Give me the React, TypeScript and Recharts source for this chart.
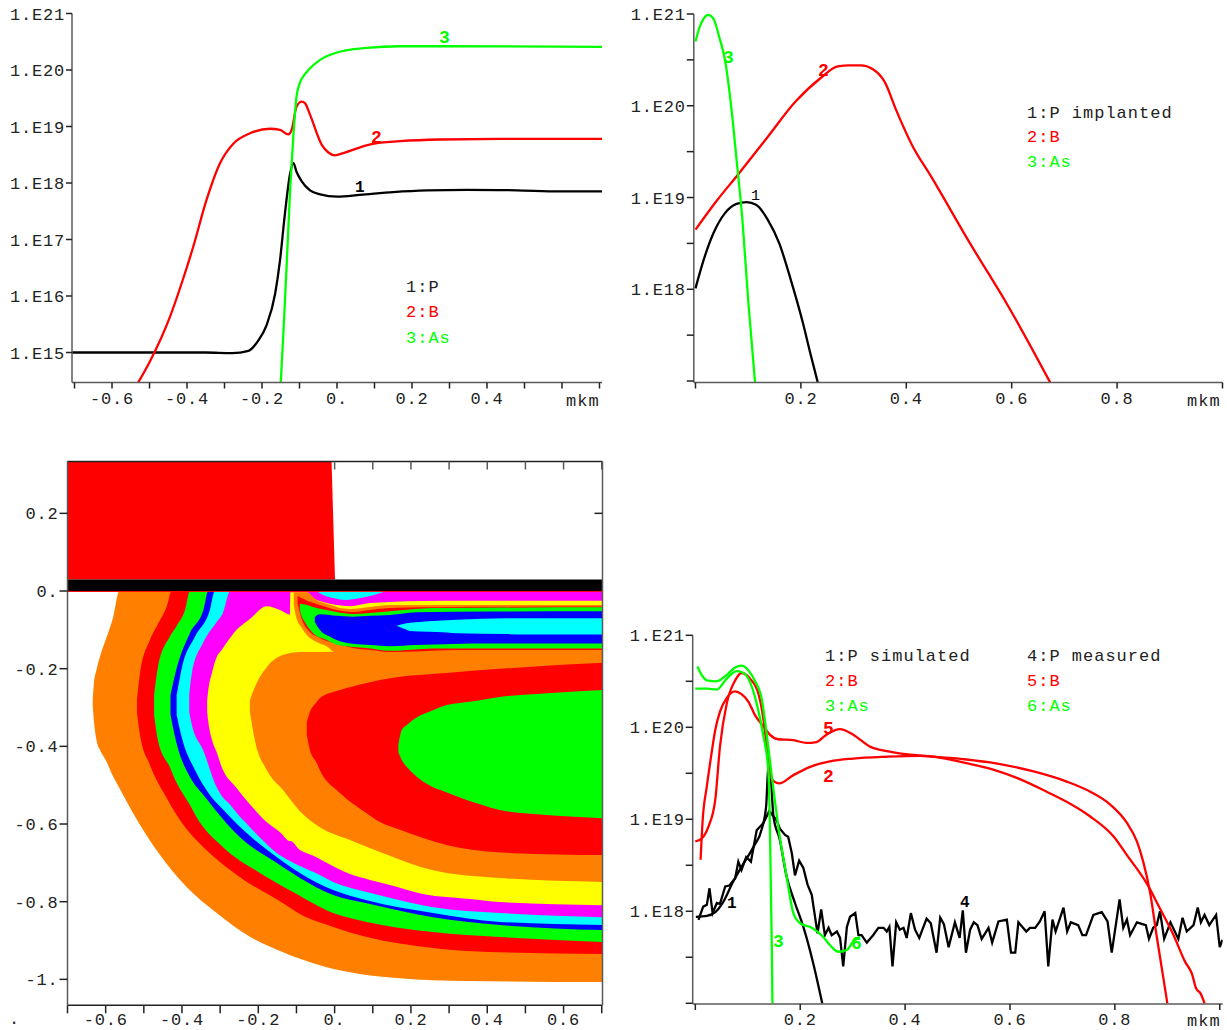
import { Area, ComposedChart, Line, LineChart, ReferenceLine, XAxis, YAxis } from 'recharts';

const BLACK = '#000000';
const RED = '#ff0000';
const GREEN = '#00ff00';
const ORANGE = '#ff8000';
const YELLOW = '#ffff00';
const MAGENTA = '#ff00ff';
const CYAN = '#00ffff';
const BLUE = '#0000ff';
const AXIS = '#5a5a5a';
const FONT = '"Liberation Mono", monospace';

type Pair = number[];

// top left: log10 concentration against depth
const leftP: Pair[] = [[-0.707, 15], [-0.35, 15], [-0.28, 14.99], [-0.236, 15.03], [-0.21, 15.21], [-0.188, 15.48], [-0.165, 16.04], [-0.152, 16.63], [-0.139, 17.45], [-0.125, 18.17], [-0.116, 18.35], [-0.108, 18.2], [-0.094, 18.03], [-0.072, 17.87], [-0.045, 17.8], [0, 17.76], [0.061, 17.79], [0.15, 17.84], [0.24, 17.87], [0.346, 17.88], [0.479, 17.87], [0.595, 17.85], [0.707, 17.85]];
const leftB: Pair[] = [[-0.53, 14.47], [-0.499, 14.84], [-0.445, 15.64], [-0.414, 16.23], [-0.383, 16.88], [-0.348, 17.7], [-0.312, 18.35], [-0.276, 18.7], [-0.232, 18.88], [-0.179, 18.96], [-0.152, 18.94], [-0.13, 18.86], [-0.121, 18.94], [-0.108, 19.35], [-0.094, 19.44], [-0.085, 19.41], [-0.072, 19.21], [-0.041, 18.68], [-0.023, 18.54], [-0.005, 18.49], [0.017, 18.53], [0.092, 18.69], [0.168, 18.74], [0.275, 18.77], [0.435, 18.78], [0.707, 18.78]];
const leftAs: Pair[] = [[-0.15, 14.47], [-0.143, 15.34], [-0.134, 16.58], [-0.125, 17.88], [-0.116, 18.88], [-0.108, 19.53], [-0.099, 19.77], [-0.085, 19.93], [-0.072, 20.03], [-0.045, 20.18], [0, 20.31], [0.079, 20.39], [0.168, 20.42], [0.292, 20.42], [0.707, 20.41]];

// top right: implanted profiles
const implP: Pair[] = [[0, 18.01], [0.0155, 18.32], [0.034, 18.61], [0.056, 18.83], [0.078, 18.93], [0.097, 18.95], [0.115, 18.92], [0.137, 18.76], [0.159, 18.5], [0.181, 18.1], [0.204, 17.63], [0.218, 17.3], [0.232, 16.985]];
const implB: Pair[] = [[0, 18.65], [0.041, 18.97], [0.082, 19.26], [0.137, 19.66], [0.189, 20.04], [0.237, 20.3], [0.27, 20.43], [0.292, 20.44], [0.314, 20.44], [0.336, 20.4], [0.359, 20.26], [0.381, 19.95], [0.411, 19.57], [0.447, 19.23], [0.521, 18.5], [0.594, 17.81], [0.673, 16.985]];
const implAs: Pair[] = [[0, 20.7], [0.008, 20.86], [0.0155, 20.95], [0.024, 20.99], [0.034, 20.95], [0.045, 20.75], [0.056, 20.5], [0.067, 20.03], [0.078, 19.41], [0.089, 18.76], [0.1, 17.88], [0.113, 16.985]];

// bottom right: simulated against measured
const simP: Pair[] = [[0.001, 17.94], [0.022, 17.95], [0.038, 17.99], [0.053, 18.1], [0.072, 18.32], [0.092, 18.52], [0.111, 18.7], [0.127, 18.9], [0.135, 19.14], [0.139, 19.54], [0.142, 19.57], [0.149, 19.03], [0.161, 18.78], [0.174, 18.38], [0.19, 18.09], [0.206, 17.83], [0.225, 17.43], [0.242, 17]];
const simB: Pair[] = [[0, 18.76], [0.012, 18.79], [0.025, 18.92], [0.038, 19.21], [0.047, 19.79], [0.06, 20.26], [0.076, 20.51], [0.088, 20.59], [0.104, 20.53], [0.12, 20.37], [0.13, 20.08], [0.136, 19.79], [0.142, 19.5], [0.15, 19.41], [0.16, 19.39], [0.187, 19.48], [0.219, 19.57], [0.257, 19.63], [0.301, 19.66], [0.365, 19.68], [0.428, 19.69], [0.454, 19.68], [0.517, 19.65], [0.581, 19.6], [0.645, 19.52], [0.708, 19.41], [0.753, 19.3], [0.791, 19.16], [0.823, 18.96], [0.842, 18.76], [0.854, 18.54], [0.867, 18.21], [0.88, 17.72], [0.892, 17.29], [0.9, 17]];
const simAs: Pair[] = [[0, 20.42], [0.022, 20.42], [0.041, 20.41], [0.06, 20.53], [0.079, 20.61], [0.092, 20.59], [0.101, 20.53], [0.117, 20.26], [0.13, 19.9], [0.139, 19.54], [0.142, 18.99], [0.144, 18.27], [0.146, 17.54], [0.147, 17]];
const measP: Pair[] = [[0.006, 17.906], [0.015, 18.05], [0.022, 18.07], [0.027, 18.25], [0.033, 17.98], [0.041, 18.09], [0.047, 18.08], [0.057, 18.27], [0.065, 18.28], [0.076, 18.36], [0.082, 18.54], [0.088, 18.45], [0.097, 18.59], [0.106, 18.54], [0.117, 18.88], [0.13, 18.96], [0.141, 19.09], [0.155, 18.99], [0.161, 18.9], [0.171, 18.83], [0.177, 18.81], [0.184, 18.63], [0.19, 18.39], [0.198, 18.55], [0.206, 18.47], [0.214, 18.29], [0.222, 18.18], [0.233, 17.76], [0.24, 18.02], [0.247, 17.74], [0.254, 17.82], [0.26, 17.74], [0.27, 17.78], [0.276, 17.71], [0.282, 17.4], [0.289, 17.83], [0.295, 17.94], [0.305, 17.98], [0.311, 17.74], [0.317, 17.74], [0.327, 17.66], [0.339, 17.74], [0.349, 17.82], [0.359, 17.82], [0.365, 17.78], [0.37, 17.83], [0.376, 17.4], [0.383, 17.88], [0.39, 17.8], [0.397, 17.82], [0.403, 17.71], [0.411, 17.98], [0.419, 17.8], [0.427, 17.71], [0.441, 17.92], [0.449, 17.87], [0.46, 17.55], [0.467, 17.93], [0.474, 17.86], [0.483, 17.61], [0.495, 17.88], [0.504, 17.71], [0.51, 18.01], [0.516, 17.55], [0.524, 17.8], [0.531, 17.88], [0.538, 17.85], [0.546, 17.7], [0.559, 17.82], [0.566, 17.66], [0.578, 17.89], [0.594, 17.91], [0.602, 17.55], [0.61, 17.55], [0.616, 17.88], [0.631, 17.78], [0.638, 17.82], [0.648, 17.82], [0.657, 17.89], [0.666, 18], [0.673, 17.4], [0.681, 17.91], [0.687, 17.78], [0.702, 18.04], [0.709, 17.78], [0.716, 17.88], [0.73, 17.85], [0.738, 17.74], [0.745, 17.74], [0.759, 17.96], [0.775, 17.99], [0.786, 17.89], [0.794, 17.55], [0.809, 18.13], [0.816, 17.82], [0.823, 17.91], [0.829, 17.74], [0.842, 17.88], [0.859, 17.85], [0.865, 17.7], [0.873, 17.82], [0.88, 17.85], [0.886, 18], [0.894, 17.7], [0.906, 17.88], [0.921, 17.7], [0.929, 17.93], [0.937, 17.78], [0.95, 17.85], [0.958, 18.04], [0.964, 17.88], [0.971, 17.96], [0.98, 17.85], [0.993, 17.96], [1, 17.61], [1.005, 17.69]];
const measB: Pair[] = [[0.01, 18.56], [0.014, 18.99], [0.022, 19.36], [0.031, 19.72], [0.038, 19.97], [0.047, 20.17], [0.06, 20.32], [0.076, 20.39], [0.088, 20.36], [0.101, 20.28], [0.114, 20.13], [0.13, 20.01], [0.142, 19.92], [0.158, 19.87], [0.187, 19.86], [0.212, 19.83], [0.231, 19.84], [0.25, 19.92], [0.276, 19.98], [0.301, 19.92], [0.333, 19.79], [0.365, 19.74], [0.397, 19.71], [0.454, 19.68], [0.517, 19.61], [0.568, 19.54], [0.613, 19.45], [0.67, 19.3], [0.708, 19.19], [0.753, 19.03], [0.798, 18.81], [0.823, 18.61], [0.861, 18.3], [0.886, 18.03], [0.912, 17.74], [0.934, 17.45], [0.947, 17.32], [0.955, 17.16], [0.963, 17.11], [0.971, 17]];
const measAs: Pair[] = [[0.004, 20.66], [0.012, 20.57], [0.022, 20.51], [0.041, 20.5], [0.06, 20.57], [0.076, 20.65], [0.088, 20.67], [0.101, 20.62], [0.114, 20.5], [0.127, 20.3], [0.136, 19.93], [0.146, 19.46], [0.161, 18.81], [0.174, 18.38], [0.187, 17.98], [0.2, 17.87], [0.222, 17.82], [0.244, 17.72], [0.257, 17.63], [0.273, 17.56], [0.289, 17.58], [0.301, 17.67], [0.314, 17.72]];

// cross section: each band is [x, upper y, lower y], painted outer to inner
const maskBand: Pair[] = [[-0.7, 0.3335, 0.0296], [-0.008, 0.3335, 0.0296], [0.001, 0.0296, 0.0296]];
const oxideBand: Pair[] = [[-0.7, 0.0296, -0.001], [0.702, 0.0296, -0.001]];
const orangeOuter: Pair[] = [[-0.634, -0.281, -0.294], [-0.631, -0.24, -0.332], [-0.624, -0.203, -0.384], [-0.615, -0.169, -0.409], [-0.599, -0.123, -0.437], [-0.58, -0.066, -0.478], [-0.564, 0, -0.507], [-0.528, 0, -0.572], [-0.467, 0, -0.667], [-0.388, 0, -0.762], [-0.309, 0, -0.829], [-0.222, 0, -0.89], [-0.135, 0, -0.93], [-0.091, 0, -0.947], [-0.021, 0, -0.969], [0.066, 0, -0.986], [0.171, 0, -0.997], [0.346, 0, -1.004], [0.702, 0, -1.007]];
const redOuter: Pair[] = [[-0.518, -0.281, -0.312], [-0.51, -0.211, -0.371], [-0.484, -0.126, -0.448], [-0.463, -0.085, -0.494], [-0.44, -0.04, -0.533], [-0.427, 0, -0.556], [-0.405, 0, -0.59], [-0.336, 0, -0.667], [-0.248, 0, -0.737], [-0.135, 0, -0.804], [-0.091, 0, -0.832], [-0.004, 0, -0.865], [0.084, 0, -0.891], [0.258, 0, -0.919], [0.346, 0, -0.927], [0.702, 0, -0.935]];
const greenOuter: Pair[] = [[-0.473, -0.268, -0.319], [-0.463, -0.196, -0.384], [-0.432, -0.118, -0.453], [-0.414, -0.09, -0.494], [-0.392, -0.049, -0.531], [-0.379, 0, -0.551], [-0.362, 0, -0.582], [-0.293, 0, -0.659], [-0.196, 0, -0.726], [-0.109, 0, -0.775], [-0.004, 0, -0.829], [0.084, 0, -0.852], [0.258, 0, -0.878], [0.433, 0, -0.891], [0.702, 0, -0.904]];
const blueOuter: Pair[] = [[-0.43, -0.268, -0.319], [-0.415, -0.203, -0.389], [-0.379, -0.108, -0.479], [-0.344, -0.049, -0.525], [-0.331, 0, -0.541], [-0.319, 0, -0.556], [-0.248, 0, -0.634], [-0.152, 0, -0.7], [-0.091, 0, -0.739], [-0.004, 0, -0.783], [0.084, 0, -0.804], [0.258, 0, -0.84], [0.433, 0, -0.86], [0.702, 0, -0.873]];
const cyanOuter: Pair[] = [[-0.414, -0.268, -0.319], [-0.4, -0.196, -0.379], [-0.366, -0.118, -0.461], [-0.327, -0.049, -0.525], [-0.314, 0, -0.541], [-0.309, 0, -0.546], [-0.24, 0, -0.615], [-0.152, 0, -0.685], [-0.091, 0, -0.726], [-0.004, 0, -0.77], [0.084, 0, -0.796], [0.258, 0, -0.829], [0.433, 0, -0.852], [0.702, 0, -0.86]];
const magentaOuter: Pair[] = [[-0.381, -0.268, -0.312], [-0.374, -0.211, -0.345], [-0.345, -0.134, -0.409], [-0.309, -0.08, -0.505], [-0.293, -0.057, -0.531], [-0.273, 0, -0.551], [-0.267, 0, -0.559], [-0.222, 0, -0.608], [-0.136, 0, -0.685], [-0.091, 0, -0.708], [-0.039, 0, -0.731], [-0.004, 0, -0.749], [0.084, 0, -0.775], [0.171, 0, -0.796], [0.258, 0, -0.814], [0.433, 0, -0.829], [0.702, 0, -0.84]];
const yellowMain: Pair[] = [[-0.334, -0.281, -0.312], [-0.331, -0.255, -0.337], [-0.321, -0.209, -0.384], [-0.309, -0.17, -0.415], [-0.296, -0.152, -0.453], [-0.257, -0.1, -0.507], [-0.222, -0.072, -0.549], [-0.178, -0.039, -0.595], [-0.143, -0.049, -0.621], [-0.117, -0.061, -0.644], [-0.116, -0.003, -0.644], [-0.091, -0.003, -0.667], [-0.073, -0.003, -0.675], [-0.056, -0.018, -0.682], [-0.03, -0.028, -0.695], [0.005, -0.036, -0.713], [0.04, -0.039, -0.729], [0.093, -0.031, -0.744], [0.145, -0.028, -0.757], [0.231, -0.026, -0.78], [0.355, -0.025, -0.793], [0.433, -0.025, -0.801], [0.702, -0.025, -0.809]];
const cyanSurface: Pair[] = [[-0.043, 0, -0.003], [-0.03, 0, -0.01], [-0.004, 0, -0.018], [0.031, 0, -0.023], [0.075, 0, -0.017], [0.127, 0, -0.003]];
const orangeInner: Pair[] = [[-0.222, -0.281, -0.312], [-0.209, -0.247, -0.384], [-0.178, -0.196, -0.461], [-0.136, -0.165, -0.512], [-0.091, -0.157, -0.567], [-0.039, -0.157, -0.608], [0.04, -0.155, -0.641], [0.127, -0.152, -0.675], [0.258, -0.152, -0.719], [0.433, -0.152, -0.739], [0.702, -0.152, -0.749]];
const redInner: Pair[] = [[-0.073, -0.337, -0.371], [-0.065, -0.312, -0.409], [-0.047, -0.286, -0.443], [-0.039, -0.276, -0.461], [0.014, -0.255, -0.52], [0.084, -0.237, -0.572], [0.119, -0.229, -0.595], [0.171, -0.221, -0.615], [0.293, -0.211, -0.654], [0.467, -0.198, -0.675], [0.702, -0.185, -0.68]];
const greenCore: Pair[] = [[0.167, -0.397, -0.415], [0.176, -0.358, -0.435], [0.192, -0.343, -0.456], [0.205, -0.332, -0.469], [0.258, -0.307, -0.505], [0.276, -0.299, -0.512], [0.346, -0.286, -0.538], [0.381, -0.281, -0.549], [0.433, -0.273, -0.564], [0.556, -0.263, -0.577], [0.702, -0.255, -0.585]];
const orangeLoop: Pair[] = [[-0.107, -0.003, -0.036], [-0.1, -0.003, -0.07], [-0.087, -0.003, -0.093], [-0.073, -0.003, -0.113], [-0.047, -0.023, -0.131], [-0.021, -0.033, -0.142], [0.001, -0.039, -0.157], [0.014, -0.044, -0.157], [0.04, -0.046, -0.157], [0.093, -0.041, -0.157], [0.145, -0.036, -0.157], [0.451, -0.036, -0.152], [0.702, -0.036, -0.152]];
const redLoop: Pair[] = [[-0.097, -0.013, -0.033], [-0.087, -0.018, -0.07], [-0.07, -0.026, -0.1], [-0.039, -0.036, -0.121], [0.005, -0.049, -0.136], [0.048, -0.054, -0.147], [0.093, -0.049, -0.152], [0.145, -0.044, -0.157], [0.231, -0.042, -0.155], [0.32, -0.041, -0.152], [0.702, -0.04, -0.152]];
const greenLoop: Pair[] = [[-0.091, -0.032, -0.049], [-0.089, -0.033, -0.057], [-0.078, -0.035, -0.08], [-0.057, -0.041, -0.108], [-0.021, -0.049, -0.126], [0.005, -0.054, -0.138], [0.048, -0.059, -0.144], [0.084, -0.057, -0.147], [0.145, -0.052, -0.154], [0.231, -0.045, -0.149], [0.276, -0.044, -0.148], [0.702, -0.042, -0.148]];
const blueLoop: Pair[] = [[-0.052, -0.067, -0.08], [-0.039, -0.06, -0.1], [-0.012, -0.062, -0.118], [0.005, -0.064, -0.126], [0.048, -0.066, -0.136], [0.093, -0.064, -0.139], [0.145, -0.062, -0.142], [0.214, -0.055, -0.139], [0.407, -0.053, -0.135], [0.702, -0.052, -0.135]];
const cyanLoop: Pair[] = [[0.164, -0.089, -0.09], [0.189, -0.083, -0.1], [0.197, -0.082, -0.103], [0.294, -0.075, -0.107], [0.32, -0.074, -0.109], [0.451, -0.07, -0.111], [0.52, -0.07, -0.112], [0.702, -0.07, -0.112]];

const straightBands: [string, Pair[]][] = [
  [RED, maskBand],
  [BLACK, oxideBand],
];
const curvedBands: [string, Pair[]][] = [
  [ORANGE, orangeOuter],
  [RED, redOuter],
  [GREEN, greenOuter],
  [BLUE, blueOuter],
  [CYAN, cyanOuter],
  [MAGENTA, magentaOuter],
  [YELLOW, yellowMain],
  [CYAN, cyanSurface],
  [ORANGE, orangeInner],
  [RED, redInner],
  [GREEN, greenCore],
  [ORANGE, orangeLoop],
  [RED, redLoop],
  [GREEN, greenLoop],
  [BLUE, blueLoop],
  [CYAN, cyanLoop],
];

const leftXTicks = [-0.7, -0.6, -0.5, -0.4, -0.3, -0.2, -0.1, 0, 0.1, 0.2, 0.3, 0.4, 0.5, 0.6, 0.7];
const leftYTicks = [15, 16, 17, 18, 19, 20, 21];
const depthXTicks = [0, 0.2, 0.4, 0.6, 0.8, 1];
const depthYTicks = [17, 17.5, 18, 18.5, 19, 19.5, 20, 20.5, 21];
const sectionYTicks = [0.2, 0, -0.2, -0.4, -0.6, -0.8, -1];
const sectionTopTicks = [0, 0.1, 0.2, 0.3, 0.4, 0.5, 0.6, 0.7];

const toLine = (pairs: Pair[]) => pairs.map(([x, y]) => ({ x, y }));
const toBand = (rows: Pair[]) => rows.map(([x, hi, lo]) => ({ x, band: [lo, hi] }));

const tickStyle = { fontSize: 17, fontFamily: FONT, fill: '#222', letterSpacing: 0.8 };
const axisLine = { stroke: AXIS, strokeWidth: 1.5 };
const tickLine = { stroke: '#222', strokeWidth: 1.5 };

const number = (v: number) => (Math.abs(v) < 1e-9 ? '0.' : Number.isInteger(v) ? `${v}.` : v.toFixed(1));
const signedLabel = (v: number) => (Math.round(Math.abs(v) * 10) % 2 === 0 ? number(v) : '');
const leftLabel = (v: number) => (v < 0.5 ? signedLabel(v) : ''); // 0.6 gives way to the unit
const depthLabel = (v: number) => (v > 0 && v < 1 ? v.toFixed(1) : '');
const powerLabel = (v: number) => (Number.isInteger(v) ? `1.E${v}` : '');
const powerLabelNo17 = (v: number) => (Number.isInteger(v) && v > 17 ? `1.E${v}` : '');

function Note({ x, y, color = '#222', bold, size = 17, children }: { x: number; y: number; color?: string; bold?: boolean; size?: number; children: string }) {
  return (
    <div
      style={{
        position: 'absolute',
        left: x,
        top: y - size / 2 + 1,
        color,
        fontFamily: FONT,
        fontSize: size,
        fontWeight: bold ? 700 : 400,
        letterSpacing: bold ? 0 : 1,
        lineHeight: 1,
        whiteSpace: 'pre',
      }}
    >
      {children}
    </div>
  );
}

function Series({ data, color, jagged }: { data: Pair[]; color: string; jagged?: boolean }) {
  return (
    <Line
      data={toLine(data)}
      dataKey="y"
      type={jagged ? 'linear' : 'monotone'}
      stroke={color}
      strokeWidth={2.3}
      dot={false}
      isAnimationActive={false}
    />
  );
}

function Band({ rows, color, curve }: { rows: Pair[]; color: string; curve: 'linear' | 'monotone' }) {
  return (
    <Area
      data={toBand(rows)}
      dataKey="band"
      type={curve}
      fill={color}
      fillOpacity={1}
      stroke="none"
      dot={false}
      activeDot={false}
      isAnimationActive={false}
    />
  );
}

export default function App() {
  return (
    <div style={{ position: 'absolute', left: 0, top: 0, width: 1227, height: 1030, background: '#fff', overflow: 'hidden' }}>
      <div style={{ position: 'absolute', left: 0, top: 0 }}>
        <LineChart width={640} height={420} margin={{ top: 13.5, right: 38, bottom: 0, left: 0 }}>
          <XAxis type="number" dataKey="x" domain={[-0.7067, 0.7067]} allowDataOverflow ticks={leftXTicks} interval={0} height={37.5} tickSize={6} tickMargin={3} tick={tickStyle} tickFormatter={leftLabel} axisLine={axisLine} tickLine={tickLine} />
          <YAxis type="number" domain={[14.469, 21]} allowDataOverflow ticks={leftYTicks} interval={0} width={72} tickSize={6} tickMargin={1} tick={tickStyle} tickFormatter={powerLabel} axisLine={axisLine} tickLine={tickLine} />
          {Series({ data: leftP, color: BLACK })}
          {Series({ data: leftB, color: RED })}
          {Series({ data: leftAs, color: GREEN })}
        </LineChart>
      </div>

      <div style={{ position: 'absolute', left: 620, top: 0 }}>
        <LineChart width={607} height={420} margin={{ top: 14, right: 4.5, bottom: 0, left: 0 }}>
          <XAxis type="number" dataKey="x" domain={[-0.0032, 1.0]} allowDataOverflow ticks={depthXTicks} interval={0} height={37.5} tickSize={6} tickMargin={3} tick={tickStyle} tickFormatter={depthLabel} axisLine={axisLine} tickLine={tickLine} />
          <YAxis type="number" domain={[16.984, 21]} allowDataOverflow ticks={depthYTicks} interval={0} width={73.8} tickSize={7} tickMargin={1} tick={tickStyle} tickFormatter={powerLabelNo17} axisLine={axisLine} tickLine={tickLine} />
          {Series({ data: implP, color: BLACK })}
          {Series({ data: implB, color: RED })}
          {Series({ data: implAs, color: GREEN })}
        </LineChart>
      </div>

      <div style={{ position: 'absolute', left: 0, top: 450 }}>
        <ComposedChart width={640} height={580} margin={{ top: 11.5, right: 37.5, bottom: 0, left: 0 }}>
          <XAxis type="number" dataKey="x" domain={[-0.7, 0.702]} allowDataOverflow ticks={leftXTicks} interval={0} height={24.7} tickSize={8} tickMargin={0} tick={tickStyle} tickFormatter={signedLabel} axisLine={{ stroke: '#222', strokeWidth: 1.5 }} tickLine={tickLine} />
          <YAxis type="number" domain={[-1.0668, 0.3335]} allowDataOverflow ticks={sectionYTicks} interval={0} width={67.5} tickSize={8} tickMargin={1} tick={tickStyle} tickFormatter={signedLabel} axisLine={axisLine} tickLine={tickLine} />
          <XAxis xAxisId="top" dataKey="x" orientation="top" mirror type="number" domain={[-0.7, 0.702]} allowDataOverflow ticks={sectionTopTicks} interval={0} height={1} tickSize={8} tick={{ fontSize: 1 }} tickFormatter={(v: number) => (v > 9 ? `${v}` : ' ')} axisLine={{ stroke: '#222', strokeWidth: 1.5 }} tickLine={{ stroke: AXIS, strokeWidth: 1.5 }} />
          <YAxis yAxisId="right" orientation="right" mirror type="number" domain={[-1.0668, 0.3335]} allowDataOverflow ticks={[0.2]} interval={0} width={30} tickSize={8} tickFormatter={() => ''} axisLine={axisLine} tickLine={{ stroke: '#222', strokeWidth: 1.5 }} />
          {straightBands.map(([color, rows]) => Band({ rows, color, curve: 'linear' }))}
          {curvedBands.map(([color, rows]) => Band({ rows, color, curve: 'monotone' }))}
          <ReferenceLine y={-0.001} stroke={RED} strokeWidth={1} />
        </ComposedChart>
      </div>

      <div style={{ position: 'absolute', left: 620, top: 620 }}>
        <LineChart width={607} height={410} margin={{ top: 15.3, right: 4.3, bottom: 0, left: 0 }}>
          <XAxis type="number" dataKey="x" domain={[-0.005, 1.0056]} allowDataOverflow ticks={depthXTicks} interval={0} height={26} tickSize={6} tickMargin={3} tick={tickStyle} tickFormatter={depthLabel} axisLine={axisLine} tickLine={tickLine} />
          <YAxis type="number" domain={[16.992, 21]} allowDataOverflow ticks={depthYTicks} interval={0} width={72.7} tickSize={7} tickMargin={1} tick={tickStyle} tickFormatter={powerLabelNo17} axisLine={axisLine} tickLine={tickLine} />
          {Series({ data: measP, color: BLACK, jagged: true })}
          {Series({ data: simP, color: BLACK })}
          {Series({ data: measB, color: RED })}
          {Series({ data: simB, color: RED })}
          {Series({ data: measAs, color: GREEN })}
          {Series({ data: simAs, color: GREEN })}
        </LineChart>
      </div>

      <Note x={439} y={37} color={GREEN} bold size={18}>3</Note>
      <Note x={371} y={137} color={RED} bold size={18}>2</Note>
      <Note x={355} y={187} color={BLACK} bold size={16}>1</Note>
      <Note x={406} y={286}>1:P</Note>
      <Note x={406} y={311} color={RED}>2:B</Note>
      <Note x={406} y={337} color={GREEN}>3:As</Note>
      <Note x={566} y={400}>mkm</Note>

      <Note x={723} y={57} color={GREEN} bold size={18}>3</Note>
      <Note x={818} y={70} color={RED} bold size={18}>2</Note>
      <Note x={751} y={195} color={BLACK} size={15}>1</Note>
      <Note x={1027} y={112}>1:P implanted</Note>
      <Note x={1027} y={136} color={RED}>2:B</Note>
      <Note x={1027} y={161} color={GREEN}>3:As</Note>
      <Note x={1187} y={400}>mkm</Note>

      <Note x={727} y={903} color={BLACK} bold size={16}>1</Note>
      <Note x={823} y={776} color={RED} bold size={18}>2</Note>
      <Note x={773} y={941} color={GREEN} bold size={18}>3</Note>
      <Note x={960} y={902} color={BLACK} bold size={16}>4</Note>
      <Note x={823} y={728} color={RED} bold size={18}>5</Note>
      <Note x={851} y={943} color={GREEN} bold size={18}>6</Note>
      <Note x={825} y={655}>1:P simulated</Note>
      <Note x={825} y={680} color={RED}>2:B</Note>
      <Note x={825} y={705} color={GREEN}>3:As</Note>
      <Note x={1027} y={655}>4:P measured</Note>
      <Note x={1027} y={680} color={RED}>5:B</Note>
      <Note x={1027} y={705} color={GREEN}>6:As</Note>
      <Note x={1187} y={1020}>mkm</Note>
      <Note x={9} y={1018}>.</Note>
    </div>
  );
}
